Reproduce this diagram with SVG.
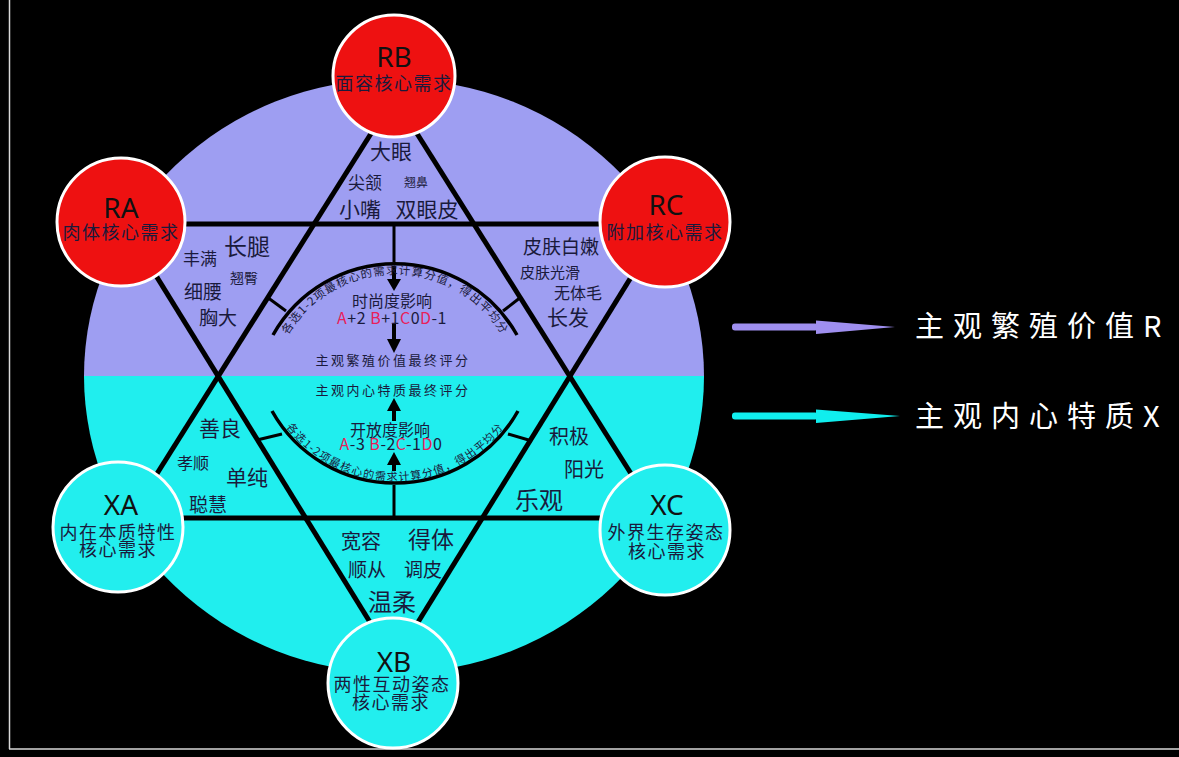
<svg xmlns="http://www.w3.org/2000/svg" width="1179" height="757" viewBox="0 0 1179 757">
<style>
.t{font-family:"Noto Sans CJK SC","Noto Sans",sans-serif;fill:#1a1a3c;text-anchor:middle}
.ln{stroke:#000;stroke-width:5;fill:none;stroke-linecap:butt}
.tk{stroke:#000;stroke-width:3;fill:none}
.arc{stroke:#000;stroke-width:3.5;fill:none}
.red{fill:#ee1111;stroke:#fff;stroke-width:3}
.cy{fill:#22eeee;stroke:#fff;stroke-width:3}
.lab{font-family:"Noto Sans","DejaVu Sans",sans-serif;fill:#111;text-anchor:middle}
.hl{fill:#e8205a}
.wt{font-family:"Noto Sans CJK SC","Noto Sans",sans-serif;fill:#fff;font-size:29px;letter-spacing:9px}
</style>
<defs>
<path id="topArc" d="M285,340 A125,125 0 0 1 505,340"/>
<path id="botArc" d="M274,408 A137,137 0 0 0 516,408"/>
</defs>
<rect width="1179" height="757" fill="#000"/>
<line x1="9.5" y1="0" x2="9.5" y2="749" stroke="#d8d8d8" stroke-width="1.5"/>
<line x1="9" y1="749" x2="1179" y2="749" stroke="#d8d8d8" stroke-width="1.5"/>

<g id="background">
<path d="M84,376 A310,297 0 0 1 704,376 Z" fill="#9e9ef2"/>
<path d="M84,376 A310,297 0 0 0 704,376 Z" fill="#20eeee"/>
</g>

<g id="connectors">
<line class="ln" x1="394" y1="97" x2="153" y2="480"/>
<line class="ln" x1="394" y1="97" x2="635" y2="480"/>
<line class="ln" x1="122" y1="224" x2="665" y2="224"/>
<line class="ln" x1="118" y1="518" x2="665" y2="518"/>
<line class="ln" x1="134" y1="240" x2="381" y2="640"/>
<line class="ln" x1="654" y1="240" x2="407" y2="640"/>
<path class="arc" d="M273,335 A140,140 0 0 1 517,335"/>
<path class="arc" d="M272,411 A141,141 0 0 0 518,411"/>
<line class="tk" x1="267" y1="297" x2="286" y2="311"/>
<line class="tk" x1="521" y1="297" x2="503" y2="311"/>
<line class="tk" x1="257" y1="440" x2="282" y2="434"/>
<line class="tk" x1="532" y1="441" x2="508" y2="434"/>
<line class="tk" x1="394" y1="224" x2="394" y2="262"/>
<line stroke="#000" stroke-width="4" x1="394" y1="266" x2="394" y2="280"/>
<polygon points="387,279 401,279 394,291" fill="#000"/>
<line stroke="#000" stroke-width="4" x1="394" y1="324" x2="394" y2="340"/>
<polygon points="387,339 401,339 394,353" fill="#000"/>
<line class="tk" x1="394" y1="485" x2="394" y2="518"/>
<line stroke="#000" stroke-width="4" x1="394" y1="471" x2="394" y2="463"/>
<polygon points="387,465 401,465 394,452" fill="#000"/>
<line stroke="#000" stroke-width="4" x1="394" y1="421" x2="394" y2="409"/>
<polygon points="387,411 401,411 394,398" fill="#000"/>
</g>

<g id="center">
<text class="t" font-size="11.5" letter-spacing="1"><textPath href="#topArc" startOffset="50%">各选1-2项最核心的需求计算分值，得出平均分</textPath></text>
<text class="t" font-size="11" letter-spacing="1.2"><textPath href="#botArc" startOffset="50%">各选1-2项最核心的需求计算分值，得出平均分</textPath></text>
<text class="t" x="392" y="307" font-size="16">时尚度影响</text>
<text class="t" x="392" y="324" font-size="16" letter-spacing="0.5"><tspan class="hl">A</tspan>+2 <tspan class="hl">B</tspan>+1<tspan class="hl">C</tspan>0<tspan class="hl">D</tspan>-1</text>
<text class="t" x="393" y="365" font-size="13" letter-spacing="2.5">主观繁殖价值最终评分</text>
<text class="t" x="393" y="395" font-size="13" letter-spacing="2.5">主观内心特质最终评分</text>
<text class="t" x="390" y="436" font-size="16">开放度影响</text>
<text class="t" x="391" y="450" font-size="16" letter-spacing="0.5"><tspan class="hl">A</tspan>-3 <tspan class="hl">B</tspan>-2<tspan class="hl">C</tspan>-1<tspan class="hl">D</tspan>0</text>
</g>

<g id="labels">
<text class="t" x="391" y="159" font-size="21">大眼</text>
<text class="t" x="365" y="189" font-size="17">尖颔</text>
<text class="t" x="416" y="187" font-size="12">翘鼻</text>
<text class="t" x="360" y="217" font-size="21">小嘴</text>
<text class="t" x="427" y="217" font-size="21">双眼皮</text>
<text class="t" x="247" y="255" font-size="23">长腿</text>
<text class="t" x="200" y="265" font-size="17">丰满</text>
<text class="t" x="244" y="283" font-size="14">翘臀</text>
<text class="t" x="203" y="299" font-size="19">细腰</text>
<text class="t" x="218" y="325" font-size="19">胸大</text>
<text class="t" x="561" y="254" font-size="19">皮肤白嫩</text>
<text class="t" x="550" y="278" font-size="15">皮肤光滑</text>
<text class="t" x="578" y="299" font-size="16">无体毛</text>
<text class="t" x="568" y="325" font-size="21">长发</text>
<text class="t" x="220" y="436" font-size="21">善良</text>
<text class="t" x="193" y="469" font-size="16">孝顺</text>
<text class="t" x="247" y="485" font-size="21">单纯</text>
<text class="t" x="208" y="512" font-size="19">聪慧</text>
<text class="t" x="569" y="444" font-size="20">积极</text>
<text class="t" x="584" y="477" font-size="20">阳光</text>
<text class="t" x="539" y="509" font-size="24">乐观</text>
<text class="t" x="361" y="549" font-size="20">宽容</text>
<text class="t" x="431" y="548" font-size="23">得体</text>
<text class="t" x="367" y="577" font-size="19">顺从</text>
<text class="t" x="423" y="577" font-size="19">调皮</text>
<text class="t" x="392" y="611" font-size="24">温柔</text>
</g>

<g id="RB">
<circle class="red" cx="394" cy="76" r="61"/>
<text class="lab" x="394" y="67" font-size="28">RB</text>
<text class="t" x="394" y="90" font-size="18" letter-spacing="1.5">面容核心需求</text>
</g>
<g id="RA">
<circle class="red" cx="121" cy="222" r="64"/>
<text class="lab" x="121" y="218" font-size="28">RA</text>
<text class="t" x="121" y="239" font-size="18" letter-spacing="1.5">肉体核心需求</text>
</g>
<g id="RC">
<circle class="red" cx="665" cy="222" r="65"/>
<text class="lab" x="666" y="215" font-size="28">RC</text>
<text class="t" x="665" y="239" font-size="18" letter-spacing="1.5">附加核心需求</text>
</g>
<g id="XA">
<circle class="cy" cx="118" cy="527" r="65"/>
<text class="lab" x="121" y="515" font-size="28">XA</text>
<text class="t" x="118" y="539" font-size="18" letter-spacing="1.5">内在本质特性</text>
<text class="t" x="118" y="556" font-size="18" letter-spacing="1.5">核心需求</text>
</g>
<g id="XC">
<circle class="cy" cx="665" cy="530" r="65"/>
<text class="lab" x="667" y="515" font-size="28">XC</text>
<text class="t" x="666" y="539" font-size="18" letter-spacing="1.5">外界生存姿态</text>
<text class="t" x="667" y="558" font-size="18" letter-spacing="1.5">核心需求</text>
</g>
<g id="XB">
<circle class="cy" cx="393" cy="683" r="65"/>
<text class="lab" x="394" y="672" font-size="28">XB</text>
<text class="t" x="392" y="691" font-size="18" letter-spacing="1.5">两性互动姿态</text>
<text class="t" x="391" y="709" font-size="18" letter-spacing="1.5">核心需求</text>
</g>

<g id="legendR">
<rect x="732" y="323.5" width="86" height="7" rx="3" fill="#9f8fef"/>
<polygon points="816,320.5 895,327 816,334" fill="#9f8fef"/>
<text class="wt" x="915" y="337">主观繁殖价值R</text>
</g>
<g id="legendX">
<rect x="732" y="412.5" width="86" height="7" rx="3" fill="#10eeee"/>
<polygon points="816,409.5 900,416 816,423" fill="#10eeee"/>
<text class="wt" x="915" y="427">主观内心特质X</text>
</g>
</svg>
